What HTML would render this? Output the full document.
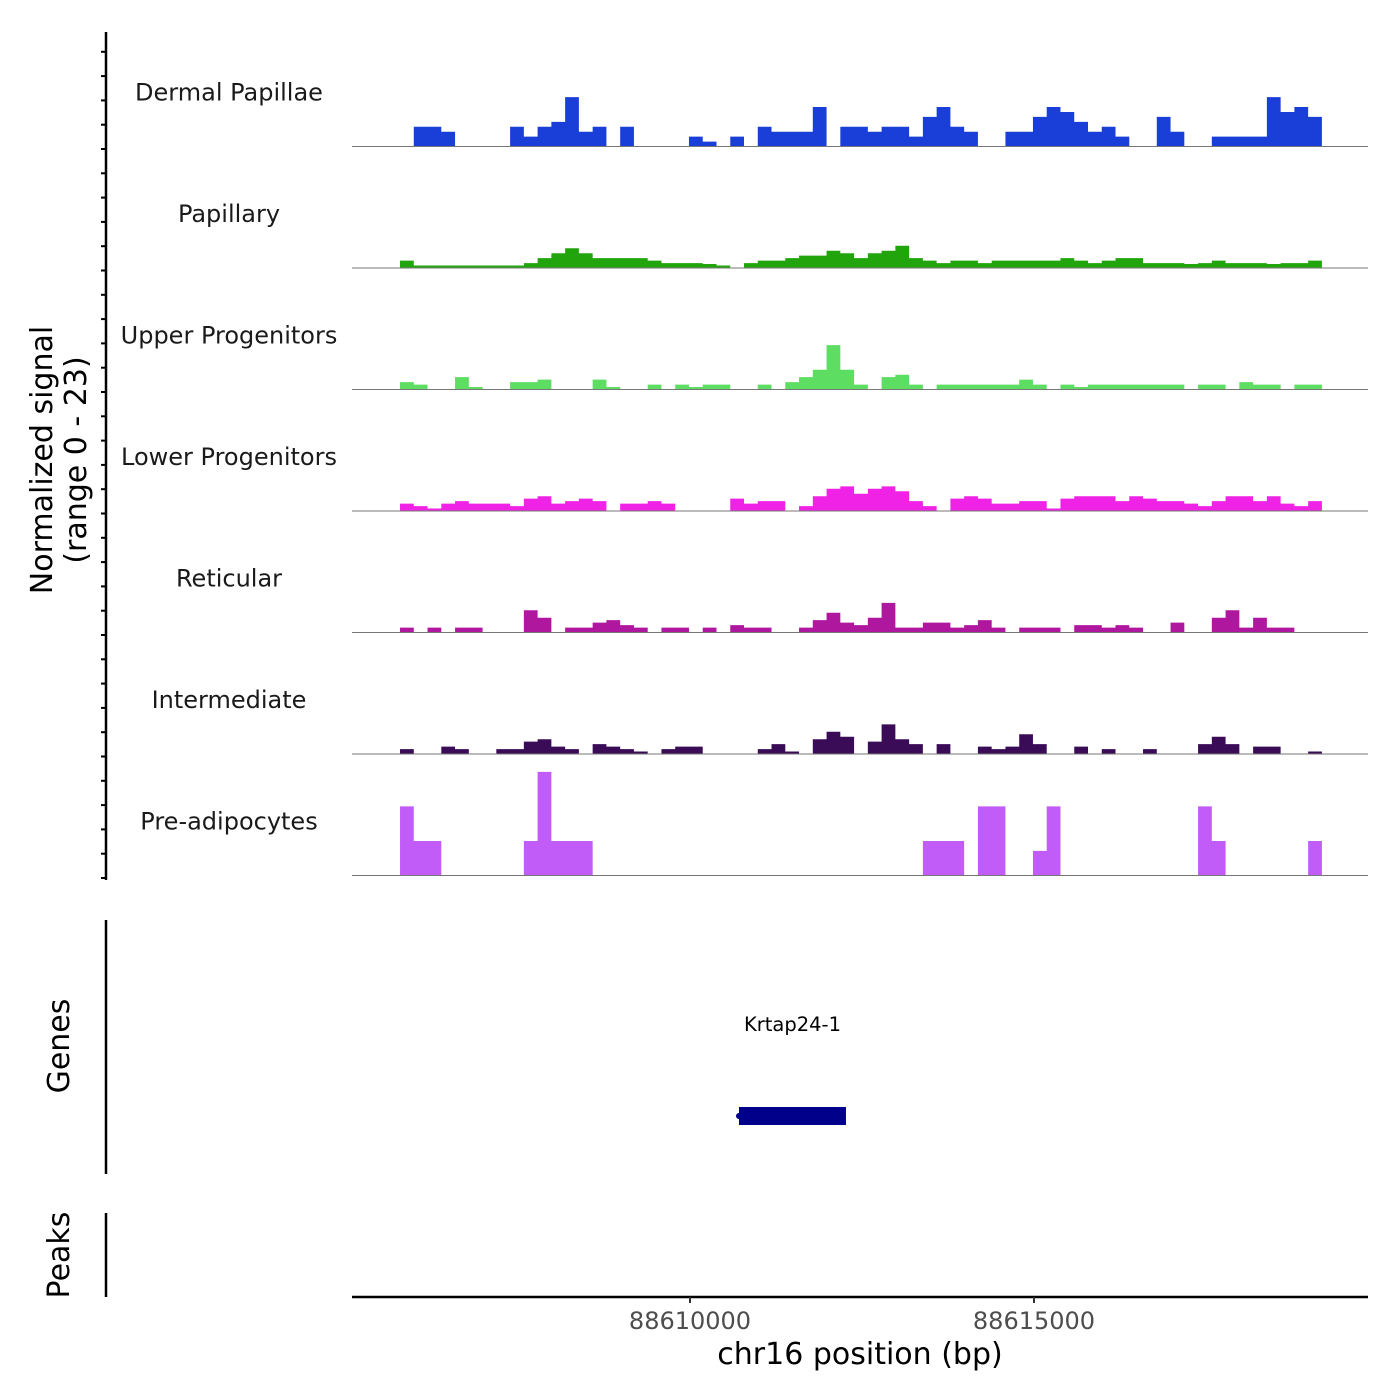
<!DOCTYPE html>
<html><head><meta charset="utf-8"><style>
body{margin:0;background:#fff;}
svg{display:block;font-family:"DejaVu Sans","Liberation Sans",sans-serif;}
</style></head><body>
<svg id="chart" width="1400" height="1400" viewBox="0 0 1400 1400">
<g id="tracks"></g>
<g id="axes"></g>
</svg>
<script>
const trackNames = ["Dermal Papillae","Papillary","Upper Progenitors","Lower Progenitors","Reticular","Intermediate","Pre-adipocytes"];
const trackColors = ["#1a3fd8","#22a50c","#5ddd62","#f022e6","#b0179f","#3a0b57","#c25cf8"];
const binStart = 88605785;
const binSize = 200;
const sigDermal = [0,4,4,3,0,0,0,0,4,2,4,5,10,3,4,0,4,0,0,0,0,2,1,0,2,0,4,3,3,3,8,0,4,4,3,4,4,2,6,8,4,3,0,0,3,3,6,8,7,5,3,4,2,0,0,6,3,0,0,2,2,2,2,10,7,8,6];
const sigPapillary = [1.5,0.5,0.5,0.5,0.5,0.5,0.5,0.5,0.5,1,2,3,4,3,2,2,2,2,1.5,1,1,1,0.8,0.5,0,1,1.5,1.5,2,2.5,2.5,3.5,3,2,3,3.5,4.5,2,1.5,1,1.5,1.5,1,1.5,1.5,1.5,1.5,1.5,2,1.5,1,1.5,2,2,1,1,1,0.8,1,1.5,1,1,1,0.8,1,1,1.5];
const sigUpper = [1.5,1,0,0,2.5,0.5,0,0,1.5,1.5,2,0,0,0,2,0.5,0,0,1,0,1,0.5,1,1,0,0,1,0,1.5,2.5,4,9,4,1,0,2.5,3,1,0,1,1,1,1,1,1,2,1,0,1,0.5,1,1,1,1,1,1,1,0,1,1,0,1.5,1,1,0,1,1];
const sigLower = [1.5,1,0.5,1.5,2,1.5,1.5,1.5,1,2.5,3,1.5,2,2.5,2,0,1.5,1.5,2,1.5,0,0,0,0,2.5,1.5,2,2,0,1,3,4.5,5,3.5,4.5,5,4,2,1,0,2.5,3,2.5,1.5,1.5,2,2,0.5,2.5,3,3,3,2,3,2.5,2,2,1.5,1,2,3,3,2,3,1.5,1,2];
const sigReticular = [1,0,1,0,1,1,0,0,0,4.5,3,0,1,1,2,2.5,1.5,1,0,1,1,0,1,0,1.5,1,1,0,0,1,2.5,4,2,1.5,3,6,1,1,2,2,1,1.5,2.5,1,0,1,1,1,0,1.5,1.5,1,1.5,1,0,0,2,0,0,3,4.5,1,3,1,1,0,0];
const sigIntermediate = [1,0,0,1.5,1,0,0,1,1,2.5,3,1.5,1,0,2,1.5,1,0.5,0,1,1.5,1.5,0,0,0,0,1,2,0.5,0,3,4.5,3.5,0,2.5,6,3,2,0,2,0,0,1.5,1,1.5,4,2,0,0,1.5,0,1,0,0,1,0,0,0,2,3.5,2,0,1.5,1.5,0,0,0.5];
const sigPreadipo = [14,7,7,0,0,0,0,0,0,7,21,7,7,7,0,0,0,0,0,0,0,0,0,0,0,0,0,0,0,0,0,0,0,0,0,0,0,0,7,7,7,0,14,14,0,0,5,14,0,0,0,0,0,0,0,0,0,0,14,7,0,0,0,0,0,0,7];
const trackSignals = [sigDermal,sigPapillary,sigUpper,sigLower,sigReticular,sigIntermediate,sigPreadipo];
const xTicks = [88610000,88615000];
const xTickLabels = ["88610000","88615000"];
const geneName = "Krtap24-1";
const geneStart = 88610712;
const geneEnd = 88612267;
const yMax = 23;

const NS="http://www.w3.org/2000/svg";
const X0=352,X1=1368,D0=88605087,D1=88619855;
function xs(bp){return X0+(bp-D0)/(D1-D0)*(X1-X0);}
const trackTop=25,trackH=121.5;
function ys(v,i){const base=trackTop+trackH*(i+1);return base-v/yMax*(trackH-8);}
function mk(tag,attrs,parent){const e=document.createElementNS(NS,tag);for(const k in attrs)e.setAttribute(k,attrs[k]);parent.appendChild(e);return e;}
const gT=document.getElementById('tracks'),gA=document.getElementById('axes');

trackSignals.forEach((arr,i)=>{
  const base=ys(0,i);
  let d="M"+xs(binStart)+","+base;
  arr.forEach((v,j)=>{const a=xs(binStart+j*binSize),b=xs(binStart+(j+1)*binSize);d+=" L"+a+","+ys(v,i)+" L"+b+","+ys(v,i);});
  d+=" L"+xs(binStart+arr.length*binSize)+","+base+" Z";
  const p=mk('path',{d:d,fill:trackColors[i],stroke:'none'},gT);
  
  
  const bl=mk('line',{x1:X0,x2:X1,y1:base,y2:base,stroke:'#777','stroke-width':1},gT);
  
  
  const t=mk('text',{x:229,y:base-46,'text-anchor':'middle','font-size':24,fill:'#1a1a1a'},gT);
  t.textContent=trackNames[i];
  
  
});

let l=mk('line',{x1:106,x2:106,y1:32,y2:880,stroke:'#000','stroke-width':2.5},gA);


for(let y=878;y>=32;y-=24.3){const tk=mk('line',{x1:101,x2:106,y1:y,y2:y,stroke:'#000','stroke-width':2},gA);
  
  }
let yt=mk('text',{transform:'translate(52,460) rotate(-90)','text-anchor':'middle','font-size':30,fill:'#000'},gA);
yt.textContent="Normalized signal";


let yt2=mk('text',{transform:'translate(86,460) rotate(-90)','text-anchor':'middle','font-size':30,fill:'#000'},gA);
yt2.textContent="(range 0 - 23)";



l=mk('line',{x1:106,x2:106,y1:920,y2:1174,stroke:'#000','stroke-width':2.5},gA);


let gt=mk('text',{transform:'translate(69,1046) rotate(-90)','text-anchor':'middle','font-size':30,fill:'#000'},gA);
gt.textContent="Genes";


let gr=mk('rect',{x:xs(geneStart),y:1107,width:xs(geneEnd)-xs(geneStart),height:18,fill:'#00008b'},gA);


let gd=mk('circle',{cx:xs(geneStart),cy:1116,r:3,fill:'#00008b'},gA);


let gl=mk('text',{x:(xs(geneStart)+xs(geneEnd))/2,y:1031,'text-anchor':'middle','font-size':19.5,fill:'#000'},gA);
gl.textContent=geneName;



l=mk('line',{x1:106,x2:106,y1:1213,y2:1297,stroke:'#000','stroke-width':2.5},gA);


let pt=mk('text',{transform:'translate(69,1255) rotate(-90)','text-anchor':'middle','font-size':30,fill:'#000'},gA);
pt.textContent="Peaks";



l=mk('line',{x1:X0,x2:X1,y1:1297,y2:1297,stroke:'#000','stroke-width':2.5},gA);


xTicks.forEach((v,i)=>{
  const tk=mk('line',{x1:xs(v),x2:xs(v),y1:1297,y2:1303,stroke:'#333','stroke-width':2},gA);
  
  
  const tl=mk('text',{x:xs(v),y:1329,'text-anchor':'middle','font-size':24,fill:'#4d4d4d'},gA);
  tl.textContent=xTickLabels[i];
  
  
});
let xt=mk('text',{x:860,y:1364,'text-anchor':'middle','font-size':30,fill:'#000'},gA);
xt.textContent="chr16 position (bp)";


</script>
</body></html>
